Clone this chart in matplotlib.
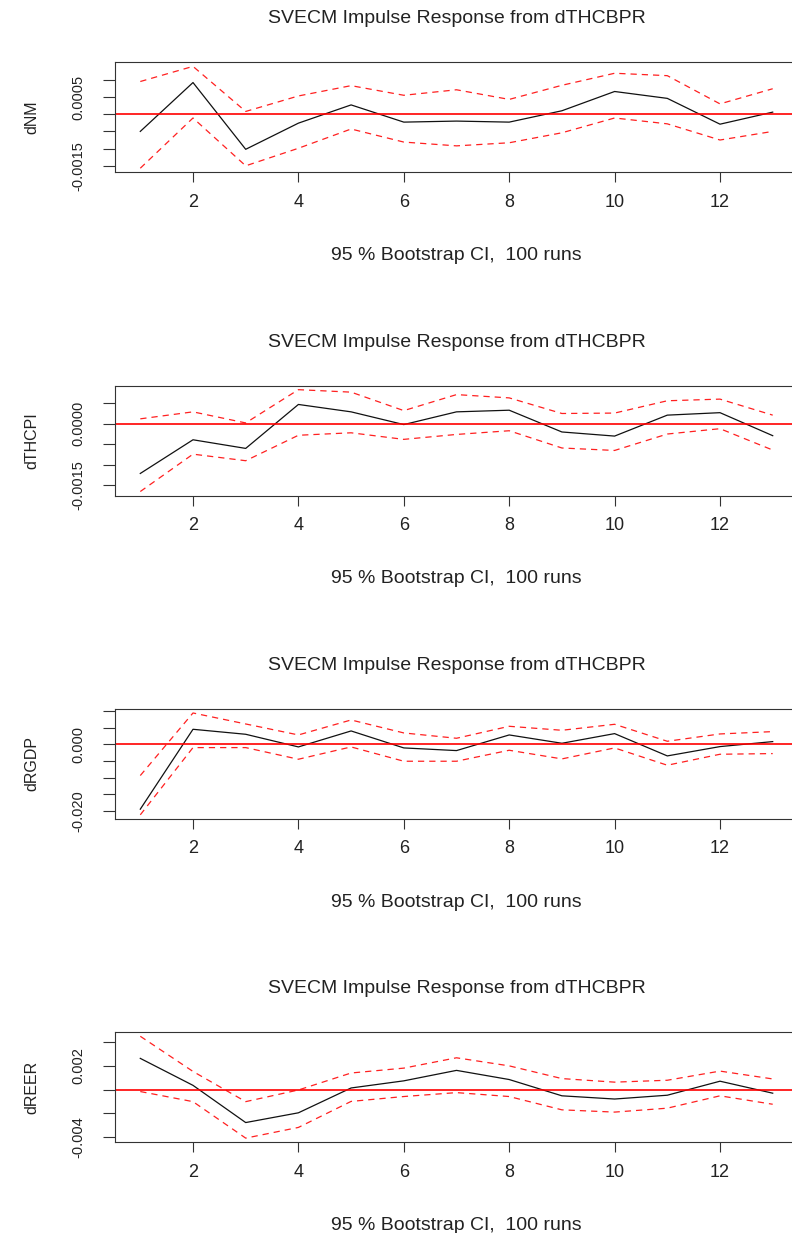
import matplotlib
matplotlib.use('Agg')
import matplotlib.pyplot as plt

plt.rcParams['font.family'] = ['Liberation Sans', 'DejaVu Sans']

steps = list(range(1, 14))
impulse = "dTHCBPR"
ci_text = "95 % Bootstrap CI,  100 runs"

# dNM
dnm = [-0.00050, 0.00092, -0.00102, -0.00026, 0.00027, -0.00023, -0.00020,
       -0.00023, 0.00010, 0.00066, 0.00046, -0.00029, 0.00006]
dnm_hi = [0.00095, 0.00139, 0.00008, 0.00053, 0.00083, 0.00055, 0.00071,
          0.00043, 0.00084, 0.00119, 0.00112, 0.00030, 0.00074]
dnm_lo = [-0.00157, -0.00011, -0.00150, -0.00099, -0.00043, -0.00081, -0.00092,
          -0.00083, -0.00054, -0.00011, -0.00028, -0.00075, -0.00050]

# dTHCPI
dthcpi = [-0.00121, -0.00039, -0.00060, 0.00047, 0.00029, -0.00002, 0.00029,
          0.00033, -0.00020, -0.00030, 0.00021, 0.00027, -0.00029]
dthcpi_hi = [0.00012, 0.00029, 0.00002, 0.00083, 0.00077, 0.00032, 0.00071,
             0.00063, 0.00025, 0.00026, 0.00056, 0.00060, 0.00021]
dthcpi_lo = [-0.00165, -0.00074, -0.00090, -0.00028, -0.00022, -0.00038, -0.00026,
             -0.00017, -0.00059, -0.00065, -0.00025, -0.00012, -0.00064]

# dRGDP
drgdp = [-0.0195, 0.0045, 0.0030, -0.0008, 0.0040, -0.0011, -0.0019,
         0.0028, 0.0003, 0.0032, -0.0035, -0.0007, 0.0008]
drgdp_hi = [-0.0094, 0.0094, 0.0061, 0.0028, 0.0073, 0.0034, 0.0018,
            0.0054, 0.0042, 0.0060, 0.0009, 0.0031, 0.0038]
drgdp_lo = [-0.0212, -0.0010, -0.0010, -0.0045, -0.0008, -0.0051, -0.0051,
            -0.0018, -0.0044, -0.0011, -0.0063, -0.0030, -0.0028]

# dREER
dreer = [0.00263, 0.00036, -0.00277, -0.00195, 0.00014, 0.00074, 0.00162,
         0.00085, -0.00052, -0.00079, -0.00047, 0.00071, -0.00030]
dreer_hi = [0.00449, 0.00153, -0.00101, -0.00003, 0.00140, 0.00181, 0.00268,
            0.00200, 0.00093, 0.00063, 0.00079, 0.00156, 0.00090]
dreer_lo = [-0.00016, -0.00101, -0.00408, -0.00318, -0.00099, -0.00058, -0.00025,
            -0.00058, -0.00170, -0.00189, -0.00156, -0.00052, -0.00123]

xticks = [2, 4, 6, 8, 10, 12]
dnm_yticks = [-0.0015, -0.0010, -0.0005, 0.0, 0.0005, 0.0010]
dnm_ylabels = ["-0.0015", "", "", "", "0.0005", ""]
dthcpi_yticks = [-0.0015, -0.0010, -0.0005, 0.0, 0.0005]
dthcpi_ylabels = ["-0.0015", "", "", "0.0000", ""]
drgdp_yticks = [-0.020, -0.015, -0.010, -0.005, 0.0, 0.005, 0.010]
drgdp_ylabels = ["-0.020", "", "", "", "0.000", "", ""]
dreer_yticks = [-0.004, -0.002, 0.0, 0.002, 0.004]
dreer_ylabels = ["-0.004", "", "", "0.002", ""]

panels = [
    ("dNM", dnm, dnm_lo, dnm_hi, dnm_yticks, dnm_ylabels),
    ("dTHCPI", dthcpi, dthcpi_lo, dthcpi_hi, dthcpi_yticks, dthcpi_ylabels),
    ("dRGDP", drgdp, drgdp_lo, drgdp_hi, drgdp_yticks, drgdp_ylabels),
    ("dREER", dreer, dreer_lo, dreer_hi, dreer_yticks, dreer_ylabels),
]

W, H = 792, 1233
fig = plt.figure(figsize=(W / 100, H / 100), dpi=100)

txt = '#222222'
for i, (name, irf, lo, hi, yt, yl) in enumerate(panels):
    top_px = 62.3 + 323.3 * i
    bot_px = 172.3 + 323.3 * i
    ax = fig.add_axes([115 / W, 1 - bot_px / H, (798 - 115) / W, (bot_px - top_px) / H])

    ax.plot(steps, irf, color='#111111', lw=0.9)
    ax.plot(steps, hi, color='#ff2020', lw=0.9, ls=(0, (5, 4)))
    ax.plot(steps, lo, color='#ff2020', lw=0.9, ls=(0, (5, 4)))
    ax.axhline(0, color='red', lw=1.2)
    ax.margins(x=0.04, y=0.04)

    ax.set_xticks(xticks)
    ax.set_yticks(yt)
    ax.set_yticklabels(yl)
    ax.tick_params(axis='both', direction='out', width=0.8,
                   colors='#333333', labelcolor=txt)
    ax.tick_params(axis='x', labelsize=13, length=7.5, pad=8)
    ax.tick_params(axis='y', labelsize=10.5, length=8.5, labelrotation=90, pad=13)
    for lab in ax.get_yticklabels():
        lab.set_va('center')

    for sp in ax.spines.values():
        sp.set_linewidth(0.8)
        sp.set_color('#333333')

    ax.set_ylabel(name, fontsize=11.5, color=txt, labelpad=23)
    ax.set_xlabel(ci_text, fontsize=14, color=txt, labelpad=26)
    ax.set_title("SVECM Impulse Response from " + impulse, fontsize=14,
                 color=txt, pad=28)

fig.savefig("out.png", dpi=100)
